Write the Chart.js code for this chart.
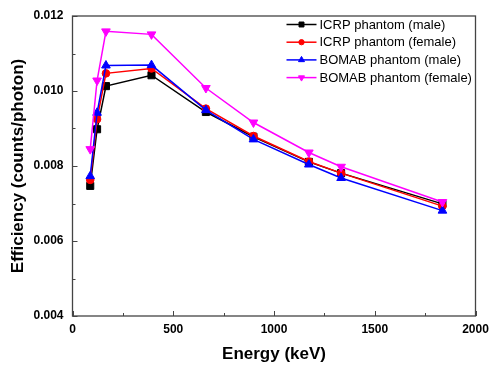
<!DOCTYPE html>
<html>
<head>
<meta charset="utf-8">
<script src="https://cdn.jsdelivr.net/npm/chart.js@4.4.1/dist/chart.umd.min.js"></script>
<style>
  html, body { margin: 0; padding: 0; background: #fff; }
  #wrap { width: 490px; height: 365px; }
</style>
</head>
<body>
<div id="wrap"><canvas id="c" width="490" height="365"></canvas></div>
<script>
// Photon energies of the calibration lines (keV)
const energies = [88, 122, 166, 392, 662, 898, 1173, 1333, 1836];

// Detection efficiency (counts/photon) per phantom
const icrpMale     = [0.00747, 0.00898, 0.01013, 0.01042, 0.00944, 0.00878, 0.00811, 0.00781, 0.00699];
const icrpFemale   = [0.00763, 0.00925, 0.01047, 0.01060, 0.00953, 0.00880, 0.00812, 0.00781, 0.00693];
const bomabMale    = [0.00773, 0.00942, 0.01068, 0.01069, 0.00949, 0.00871, 0.00804, 0.00768, 0.00681];
const bomabFemale  = [0.00845, 0.01028, 0.01159, 0.01151, 0.01008, 0.00916, 0.00836, 0.00798, 0.00704];

const seriesLabels = ['ICRP phantom (male)', 'ICRP phantom (female)', 'BOMAB phantom (male)', 'BOMAB phantom (female)'];

const xTicks = [0, 500, 1000, 1500, 2000];
const yTicks = [0.004, 0.006, 0.008, 0.010, 0.012];

const FONT = '"Liberation Sans", Arial, Helvetica, sans-serif';

function pts(ys) { return energies.map((e, i) => ({ x: e, y: ys[i] })); }

function ds(label, ys, color, style, radius, rotation, order) {
  return {
    label, data: pts(ys),
    borderColor: color, backgroundColor: color,
    pointBackgroundColor: color, pointBorderColor: color,
    pointStyle: style, pointRadius: radius, pointHoverRadius: radius,
    pointRotation: rotation, pointBorderWidth: 1,
    borderWidth: 1.5, tension: 0, order
  };
}

// Frame, inward major/minor ticks and the line+marker legend
const framePlugin = {
  id: 'frame',
  afterDraw(chart) {
    const { ctx, chartArea: a, scales } = chart;
    ctx.save();
    ctx.strokeStyle = '#444';
    ctx.lineWidth = 1.3;
    ctx.strokeRect(a.left, a.top, a.right - a.left, a.bottom - a.top);

    ctx.lineWidth = 1;
    ctx.beginPath();
    for (let v = 0; v <= 2000; v += 250) {
      const x = Math.round(scales.x.getPixelForValue(v)) + 0.5;
      const len = (v % 500 === 0) ? 5 : 3;
      ctx.moveTo(x, a.bottom); ctx.lineTo(x, a.bottom - len);
    }
    for (let k = 0; k <= 8; k++) {
      const v = 0.004 + k * 0.001;
      const y = Math.round(scales.y.getPixelForValue(v)) + 0.5;
      const len = (k % 2 === 0) ? 5 : 3;
      ctx.moveTo(a.left, y); ctx.lineTo(a.left + len, y);
    }
    ctx.stroke();

    // legend
    const lx0 = a.left + 214, lx1 = a.left + 244, tx = a.left + 247;
    let ly = a.top + 8.5;
    ctx.font = '13px ' + FONT;
    ctx.textBaseline = 'middle';
    ctx.textAlign = 'left';
    chart.data.datasets.forEach(d => {
      ctx.strokeStyle = d.borderColor;
      ctx.fillStyle = d.borderColor;
      ctx.lineWidth = 1.5;
      ctx.beginPath(); ctx.moveTo(lx0, ly); ctx.lineTo(lx1, ly); ctx.stroke();
      ctx.lineWidth = 1;
      Chart.helpers.drawPoint(ctx, { pointStyle: d.pointStyle, radius: d.pointRadius * 0.7, rotation: d.pointRotation, borderWidth: 1 }, (lx0 + lx1) / 2, ly);
      ctx.fillStyle = '#000';
      ctx.fillText(d.label, tx, ly + 0.5);
      ly += 17.7;
    });
    ctx.restore();
  }
};

new Chart(document.getElementById('c'), {
  type: 'line',
  data: {
    datasets: [
      ds(seriesLabels[0], icrpMale, '#000000', 'rect', 5, 0, 3),
      ds(seriesLabels[1], icrpFemale, '#ff0000', 'circle', 3.8, 0, 2),
      ds(seriesLabels[2], bomabMale, '#0000ff', 'triangle', 5, 0, 1),
      ds(seriesLabels[3], bomabFemale, '#ff00ff', 'triangle', 5, 180, 0)
    ]
  },
  options: {
    responsive: false,
    animation: false,
    devicePixelRatio: 1,
    layout: { padding: { top: 16, right: 0, left: 0, bottom: 0 } },
    plugins: { legend: { display: false }, tooltip: { enabled: false } },
    scales: {
      x: {
        type: 'linear', min: 0, max: 2000,
        afterBuildTicks: s => { s.ticks = xTicks.map(v => ({ value: v })); },
        afterFit: s => { s.height = 49; s.paddingLeft = 0; s.paddingRight = 14.5; },
        grid: { display: false, drawTicks: false },
        border: { display: false },
        ticks: { padding: 6, color: '#000', font: { family: FONT, size: 12, weight: 'bold' }, maxRotation: 0, callback: v => String(v) },
        title: { display: true, text: 'Energy (keV)', color: '#000', font: { family: FONT, size: 17, weight: 'bold' }, padding: { top: 6, bottom: 0 } }
      },
      y: {
        type: 'linear', min: 0.004, max: 0.012,
        afterBuildTicks: s => { s.ticks = yTicks.map(v => ({ value: v })); },
        afterFit: s => { s.width = 72.5; s.paddingTop = 0; s.paddingBottom = 0; },
        grid: { display: false, drawTicks: false },
        border: { display: false },
        ticks: { padding: 9, color: '#000', font: { family: FONT, size: 12, weight: 'bold' }, callback: v => v.toFixed(3) },
        title: { display: true, text: 'Efficiency (counts/photon)', color: '#000', font: { family: FONT, size: 17, weight: 'bold' }, padding: { top: 8, bottom: 0 } }
      }
    }
  },
  plugins: [framePlugin]
});
</script>
</body>
</html>
